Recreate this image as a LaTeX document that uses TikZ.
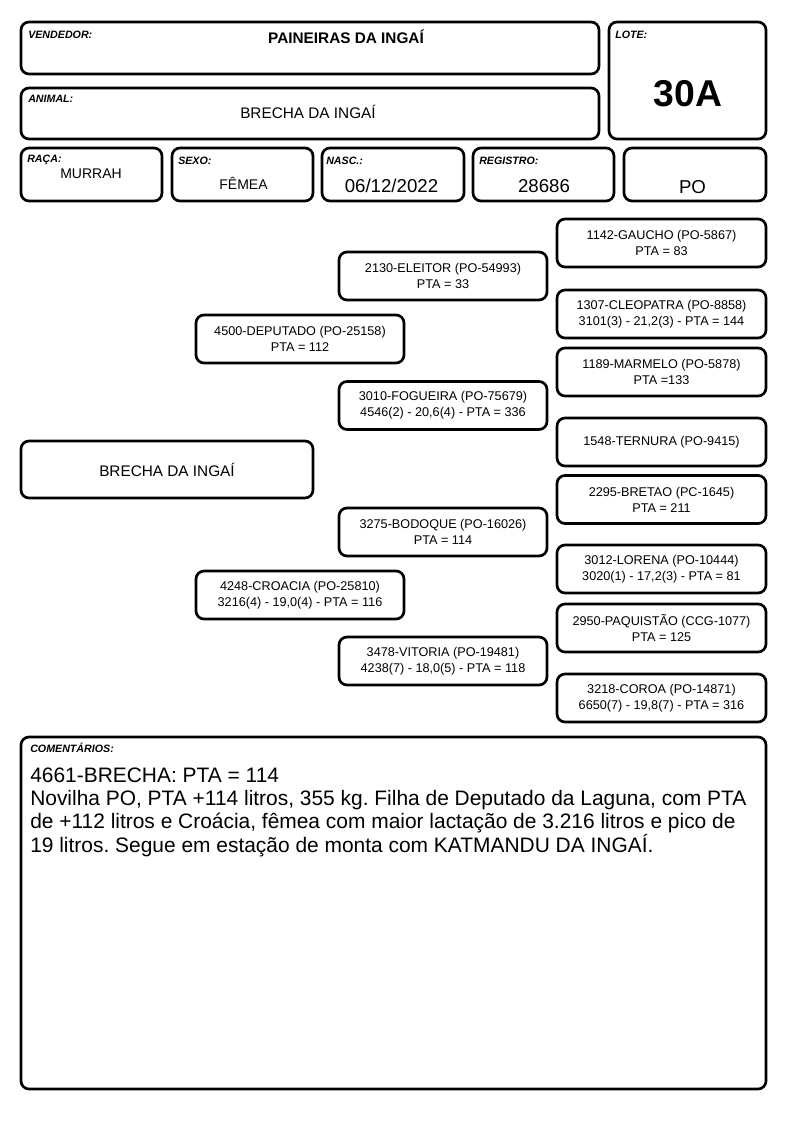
\documentclass[tikz,border=0pt]{standalone}
\usepackage{fontspec}
\setmainfont{Liberation Sans}
\frenchspacing

\tikzset{
  caixa/.style={draw, line width=2pt, rounded corners=6pt, inner sep=0pt},
  rotulo/.style={anchor=base west, inner sep=0pt, font=\fontsize{8}{9}\selectfont\bfseries\itshape},
  valor/.style={anchor=base, inner sep=0pt},
  pai/.style={caixa, minimum width=156pt, minimum height=36pt, align=center, font=\fontsize{9.5}{12}\selectfont},
  avo/.style={pai, minimum width=156.75pt},
}

\begin{document}
\begin{tikzpicture}[x=0.75pt,y=-0.75pt]
  \useasboundingbox (0,0) rectangle (794,1123);

  % cabecalho
  \node [caixa, minimum width=433.5pt, minimum height=39pt] (vendedor) at (310,48) {};
  \node [rotulo] (lblvendedor) at (28,39) {VENDEDOR:};
  \node [valor, font=\fontsize{11.5}{14}\selectfont\bfseries] (nomevendedor) at (346,44) {PAINEIRAS DA INGAÍ};

  \node [caixa, minimum width=117.75pt, minimum height=87.75pt] (lote) at (687.5,80.5) {};
  \node [rotulo] (lbllote) at (615,38.5) {LOTE:};
  \node [valor, font=\fontsize{28}{32}\selectfont\bfseries] (numlote) at (688,107) {30A};

  \node [caixa, minimum width=433.5pt, minimum height=38.25pt] (animal) at (310,113.5) {};
  \node [rotulo] (lblanimal) at (28,102.5) {ANIMAL:};
  \node [valor, font=\fontsize{11.5}{14}\selectfont] (nomeanimal) at (308,119) {BRECHA DA INGAÍ};

  \node [caixa, minimum width=105.75pt, minimum height=39.75pt] (raca) at (91.5,174.5) {};
  \node [rotulo] (lblraca) at (27,162.5) {RAÇA:};
  \node [valor, font=\fontsize{10.5}{12}\selectfont] (valraca) at (91,178.3) {MURRAH};

  \node [caixa, minimum width=105.75pt, minimum height=39.75pt] (sexo) at (242.5,174.5) {};
  \node [rotulo] (lblsexo) at (178,165) {SEXO:};
  \node [valor, font=\fontsize{10.5}{12}\selectfont] (valsexo) at (243.5,189.3) {FÊMEA};

  \node [caixa, minimum width=106.5pt, minimum height=39.75pt] (nasc) at (393,174.5) {};
  \node [rotulo] (lblnasc) at (326,165) {NASC.:};
  \node [valor, font=\fontsize{14}{16}\selectfont] (valnasc) at (391.5,193) {06/12/2022};

  \node [caixa, minimum width=105.75pt, minimum height=39.75pt] (registro) at (543.5,174.5) {};
  \node [rotulo] (lblregistro) at (479,165) {REGISTRO:};
  \node [valor, font=\fontsize{14}{16}\selectfont] (valregistro) at (544,193) {28686};

  \node [caixa, minimum width=106.5pt, minimum height=39.75pt] (tipo) at (695,174.5) {};
  \node [valor, font=\fontsize{14}{16}\selectfont] (valtipo) at (692.5,193.3) {PO};

  % genealogia
  \node [caixa, minimum width=219pt, minimum height=42.75pt, font=\fontsize{11.5}{14}\selectfont] (brecha) at (167,469.5) {BRECHA DA INGAÍ};

  \node [pai] (deputado) at (300,339) {4500-DEPUTADO (PO-25158)\\PTA = 112};
  \node [pai] (croacia) at (300,595) {4248-CROACIA (PO-25810)\\3216(4) - 19,0(4) - PTA = 116};

  \node [pai] (eleitor) at (443,276) {2130-ELEITOR (PO-54993)\\PTA = 33};
  \node [pai] (fogueira) at (443,405.5) {3010-FOGUEIRA (PO-75679)\\4546(2) - 20,6(4) - PTA = 336};
  \node [pai] (bodoque) at (443,532) {3275-BODOQUE (PO-16026)\\PTA = 114};
  \node [pai] (vitoria) at (443,661) {3478-VITORIA (PO-19481)\\4238(7) - 18,0(5) - PTA = 118};

  \node [avo] (gaucho) at (661.5,243) {1142-GAUCHO (PO-5867)\\PTA = 83};
  \node [avo] (cleopatra) at (661.5,314) {1307-CLEOPATRA (PO-8858)\\3101(3) - 21,2(3) - PTA = 144};
  \node [avo] (marmelo) at (661.5,372) {1189-MARMELO (PO-5878)\\PTA =133};
  \node [avo] (ternura) at (661.5,442) {1548-TERNURA (PO-9415)};
  \node [avo] (bretao) at (661.5,499.5) {2295-BRETAO (PC-1645)\\PTA = 211};
  \node [avo] (lorena) at (661.5,569) {3012-LORENA (PO-10444)\\3020(1) - 17,2(3) - PTA = 81};
  \node [avo] (paquistao) at (661.5,628) {2950-PAQUISTÃO (CCG-1077)\\PTA = 125};
  \node [avo] (coroa) at (661.5,698) {3218-COROA (PO-14871)\\6650(7) - 19,8(7) - PTA = 316};

  % comentarios
  \node [caixa, minimum width=558.75pt, minimum height=264pt] (comentarios) at (393.5,913) {};
  \node [rotulo] (lblcomentarios) at (30,752) {COMENTÁRIOS:};
  \node [anchor=base west, inner sep=0pt, align=left, font=\fontsize{15.7}{17.5}\selectfont] (textocomentarios) at (30,852)
    {4661-BRECHA: PTA = 114\\
     Novilha PO, PTA +114 litros, 355 kg. Filha de Deputado da Laguna, com PTA\\
     de +112 litros e Croácia, fêmea com maior lactação de 3.216 litros e pico de\\
     19 litros. Segue em estação de monta com KATMANDU DA INGAÍ.};
\end{tikzpicture}
\end{document}
